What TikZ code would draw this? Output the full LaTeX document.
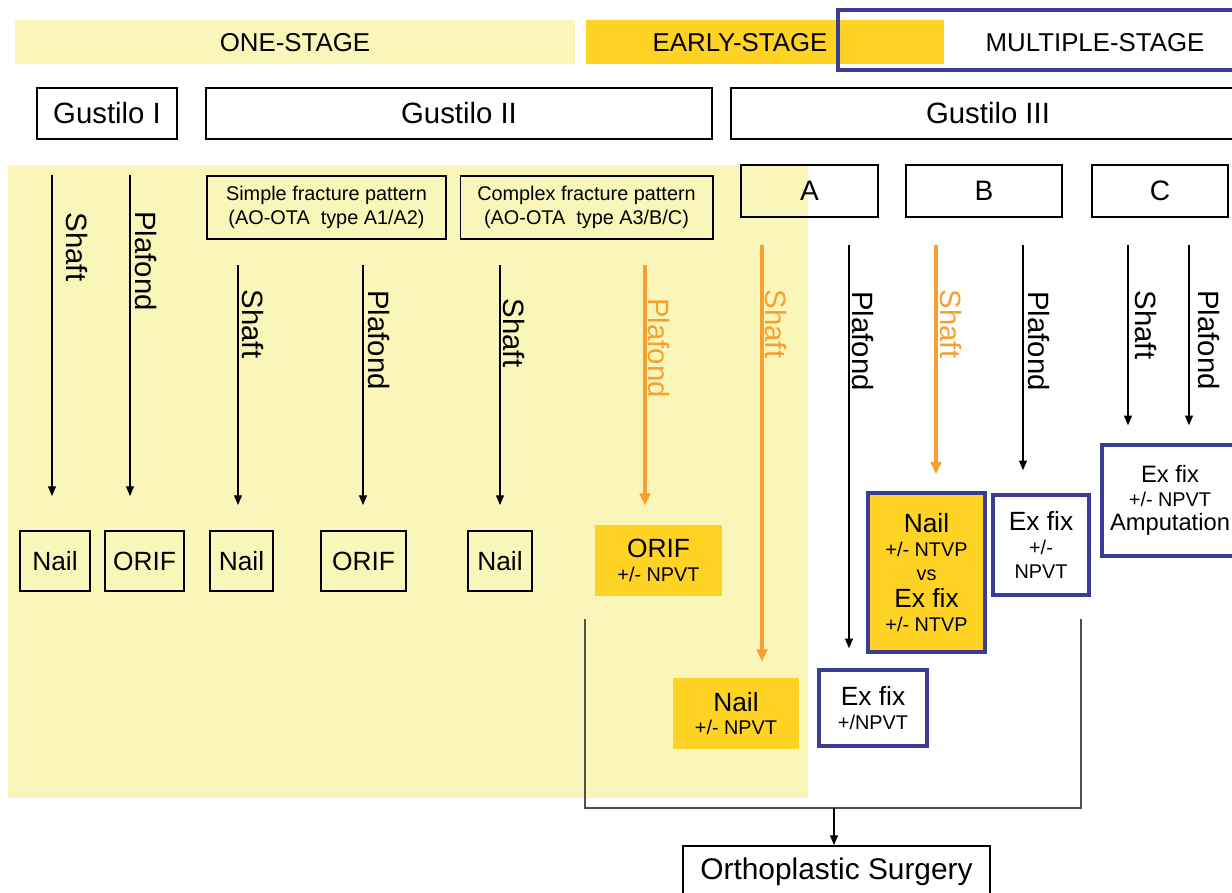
\documentclass[tikz,border=0pt]{standalone}
\usepackage{fontspec}
\setmainfont{Liberation Sans}
\usetikzlibrary{arrows.meta}

\definecolor{paleyellow}{RGB}{250,245,185}
\definecolor{goldfill}{RGB}{255,211,36}
\definecolor{stageblue}{RGB}{60,60,150}
\definecolor{arrorange}{RGB}{247,160,50}
\definecolor{bracketgray}{RGB}{80,80,80}

\newcommand{\mainsz}{\fontsize{15}{17}\selectfont}
\newcommand{\subsz}{\fontsize{11.3}{13.5}\selectfont}

\begin{document}
\begin{tikzpicture}[x=0.02cm,y=-0.02cm,
    bandtxt/.style={inner sep=0pt,font=\fontsize{14.7}{17}\selectfont},
    gbox/.style={draw,line width=1.1pt,fill=white,inner sep=0pt,font=\fontsize{16.7}{20}\selectfont},
    patbox/.style={draw,line width=0.6pt,inner sep=0pt,align=center,font=\fontsize{11.3}{13.5}\selectfont},
    typebox/.style={draw,line width=0.8pt,inner sep=0pt,font=\fontsize{16}{19}\selectfont},
    txbox/.style={draw,line width=1.1pt,inner sep=0pt,minimum height=1.2cm,font=\mainsz},
    goldbox/.style={fill=goldfill,inner sep=0pt,align=center,font=\subsz},
    bluebox/.style={draw=stageblue,line width=2pt,inner sep=0pt,align=center,font=\subsz},
    lbl/.style={rotate=-90,inner sep=0pt,font=\fontsize{16.7}{20}\selectfont},
    blackarr/.style={line width=0.6pt,-{Triangle[length=5.5pt,width=4.5pt]}},
    orangearr/.style={arrorange,line width=1.9pt,-{Triangle[length=7pt,width=6pt]}}]
        \useasboundingbox (0,0) rectangle (1232,893);

        % Stage bands
        \fill[paleyellow] (15,20) rectangle (575,64);
        \node[bandtxt] (one) at (295,43) {ONE-STAGE};
        \fill[goldfill] (586,20) rectangle (944,64);
        \node[bandtxt] (early) at (740,43) {EARLY-STAGE};
        \draw[stageblue,line width=2pt] (838,10) rectangle (1245,70);
        \node[bandtxt] (multi) at (1095,43) {MULTIPLE-STAGE};

        % Gustilo classes
        \node[gbox,minimum width=2.8cm,minimum height=1.02cm] (g1) at (107,113.5) {Gustilo I};
        \node[gbox,minimum width=10.12cm,minimum height=1.02cm] (g2) at (459,113.5) {Gustilo II};
        \node[gbox,minimum width=10.3cm,minimum height=1.02cm] (g3) at (988,113.5) {Gustilo III};

        % One-stage area
        \fill[paleyellow] (8,165) rectangle (808,798);

        % Fracture patterns and subtypes
        \node[patbox,minimum width=4.78cm,minimum height=1.26cm] (simple) at (326.5,207.5) {Simple fracture pattern\\(AO-OTA\ \ type A1/A2)};
        \node[patbox,minimum width=5.06cm,minimum height=1.26cm] (complex) at (586.5,207.5) {Complex fracture pattern\\(AO-OTA\ \ type A3/B/C)};
        \node[typebox,minimum width=2.74cm,minimum height=1.04cm] (ta) at (809.5,191) {A};
        \node[typebox,minimum width=3.12cm,minimum height=1.04cm] (tb) at (984,191) {B};
        \node[typebox,minimum width=2.72cm,minimum height=1.04cm] (tc) at (1160,191) {C};

        % Treatments
        \node[txbox,minimum width=1.4cm] (nail1) at (55,561) {Nail};
        \node[txbox,minimum width=1.58cm] (orif1) at (144.5,561) {ORIF};
        \node[txbox,minimum width=1.26cm] (nail2) at (241.5,561) {Nail};
        \node[txbox,minimum width=1.7cm] (orif2) at (363.5,561) {ORIF};
        \node[txbox,minimum width=1.28cm] (nail3) at (500,561) {Nail};
        \node[goldbox,minimum width=2.54cm,minimum height=1.42cm] (orifg) at (658.5,560.5) {{\mainsz ORIF}\\+/- NPVT};
        \node[goldbox,minimum width=2.52cm,minimum height=1.42cm] (nailg) at (736,713.5) {{\mainsz Nail}\\+/- NPVT};
        \node[bluebox,minimum width=2.16cm,minimum height=1.52cm] (exa) at (873,708) {{\mainsz Ex fix}\\+/NPVT};
        \node[bluebox,fill=goldfill,minimum width=2.34cm,minimum height=3.18cm] (nvb) at (926.5,572.5) {{\mainsz Nail}\\+/- NTVP\\vs\\[2pt]{\mainsz Ex fix}\\+/- NTVP};
        \node[bluebox,minimum width=1.92cm,minimum height=2.0cm] (exb) at (1041,545) {{\mainsz Ex fix}\\+/-\\NPVT};
        \node[bluebox,minimum width=2.72cm,minimum height=2.22cm] (exc) at (1170,500.5) {{\fontsize{13.5}{16}\selectfont Ex fix}\\+/- NPVT\\{\fontsize{13.5}{16}\selectfont Amputation}};

        % Arrow starts
        \coordinate (s1) at (52,175);
        \coordinate (p1) at (130,175);
        \coordinate (s2) at (238,265);
        \coordinate (p2) at (363,265);
        \coordinate (s3) at (500,265);
        \coordinate (p3) at (645,265);
        \coordinate (sa) at (762,245);
        \coordinate (pa) at (849,245);
        \coordinate (sb) at (936,245);
        \coordinate (pb) at (1023,245);
        \coordinate (sc) at (1128,245);
        \coordinate (pc) at (1189,245);

        % Arrows
        \draw[blackarr,shorten >=0.68cm] (s1) -- (s1 |- nail1.north);
        \draw[blackarr,shorten >=0.68cm] (p1) -- (p1 |- orif1.north);
        \draw[blackarr,shorten >=0.5cm] (s2) -- (s2 |- nail2.north);
        \draw[blackarr,shorten >=0.5cm] (p2) -- (p2 |- orif2.north);
        \draw[blackarr,shorten >=0.5cm] (s3) -- (s3 |- nail3.north);
        \draw[orangearr,shorten >=0.38cm] (p3) -- (p3 |- orifg.north);
        \draw[orangearr,shorten >=0.32cm] (sa) -- (sa |- nailg.north);
        \draw[blackarr,shorten >=0.4cm] (pa) -- (pa |- exa.north);
        \draw[orangearr,shorten >=0.34cm] (sb) -- (sb |- nvb.north);
        \draw[blackarr,shorten >=0.46cm] (pb) -- (pb |- exb.north);
        \draw[blackarr,shorten >=0.36cm] (sc) -- (sc |- exc.north);
        \draw[blackarr,shorten >=0.36cm] (pc) -- (pc |- exc.north);

        % Arrow labels
        \node[lbl] (s1l) at (77,247) {Shaft};
        \node[lbl] (p1l) at (146,261) {Plafond};
        \node[lbl] (s2l) at (253,324) {Shaft};
        \node[lbl] (p2l) at (379,340) {Plafond};
        \node[lbl] (s3l) at (514,333) {Shaft};
        \node[lbl,arrorange] (p3l) at (659,348) {Plafond};
        \node[lbl,arrorange] (sal) at (776,324) {Shaft};
        \node[lbl] (pal) at (863,341) {Plafond};
        \node[lbl,arrorange] (sbl) at (951,324) {Shaft};
        \node[lbl] (pbl) at (1039,341) {Plafond};
        \node[lbl] (scl) at (1146,325) {Shaft};
        \node[lbl] (pcl) at (1209,340) {Plafond};

        % Orthoplastic surgery
        \node[gbox,minimum width=6.14cm,minimum height=1.04cm,font=\fontsize{17}{20}\selectfont] (ortho) at (836.5,872) {Orthoplastic Surgery};
        \coordinate (bl) at (585,619);
        \coordinate (br) at (1081,619);
        \coordinate (bot) at (834,808);
        \draw[bracketgray,line width=0.8pt] (bl) -- (bl |- bot) -- (br |- bot) -- (br);
        \draw[blackarr] (bot) -- (bot |- ortho.north);
      \end{tikzpicture}
\end{document}
